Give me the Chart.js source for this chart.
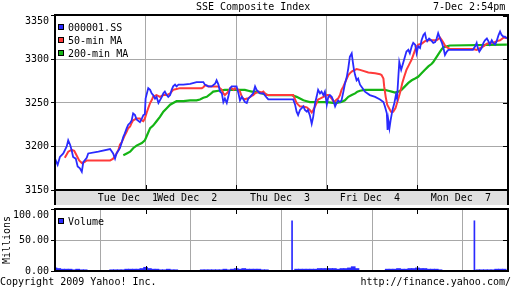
<!DOCTYPE html>
<html>
<head>
<meta charset="utf-8">
<script src="https://cdn.jsdelivr.net/npm/chart.js@4.4.0/dist/chart.umd.min.js"></script>
<style>
  body { margin: 0; background: #fff; }
  #wrap { position: relative; width: 512px; height: 288px; overflow: hidden; font: 10px 'DejaVu Sans Mono', monospace; color: #000; }
  #wrap canvas { position: absolute; left: 0; }
  .txt { position: absolute; line-height: 12px; white-space: pre; }
</style>
</head>
<body>
<div id="wrap">
  <canvas id="price" width="512" height="205" style="top:0px"></canvas>
  <canvas id="volume" width="512" height="93" style="top:195px"></canvas>
  <div class="txt" style="left:196px;top:1px">SSE Composite Index</div>
  <div class="txt" style="left:433px;top:1px">7-Dec 2:54pm</div>
  <div class="txt" style="left:0px;top:276px">Copyright 2009 Yahoo! Inc.</div>
  <div class="txt" style="right:1px;top:276px">http://finance.yahoo.com/</div>
</div>
<script>
// ---------------- data (x = trading minutes since Tue open, 240 per day) ----------------
const dayBreaks = [240, 480, 720, 960]
const dayLabels = ['Tue Dec  1', 'Wed Dec  2', 'Thu Dec  3', 'Fri Dec  4', 'Mon Dec  7']
const dayLabelAt = [193, 350, 596, 834, 1075]
const priceTicks = [3150, 3200, 3250, 3300, 3350]
const volTicks = [0, 50, 100]

const blueTime = [
  0,7,13,22,31,35,40,44,48,55,60,66,71,75,84,88,115,146,154,159,163,172,177,181,185,190,194,199,203,207,212,216,225,230,234,238,
  240,247,252,256,260,265,269,274,278,283,287,291,296,300,305,309,313,318,322,327,340,358,375,384,393,397,406,415,424,428,433,437,442,446,450,455,459,464,468,477,
  481,486,490,495,503,508,512,517,525,530,534,543,552,561,565,631,636,640,644,649,658,662,667,670,675,680,684,689,693,697,702,706,711,715,
  720,724,728,733,737,742,746,750,755,759,764,768,773,777,781,786,789,792,795,799,803,808,821,834,848,861,870,874,879,881,883,886,889,894,899,903,906,909,912,917,923,927,931,936,940,945,949,954,958,
  962,967,971,976,980,983,986,991,996,1002,1007,1011,1015,1020,1025,1029,1033,1038,1042,1107,1113,1117,1120,1124,1130,1135,1139,1144,1148,1152,1157,1161,1166,1170,1175,1179,1183,1188,1192,1197
]
const blueValue = [
  3186,3179,3188,3192,3200,3207,3202,3196,3188,3186,3177,3175,3171,3182,3187,3192,3194,3197,3192,3186,3192,3198,3205,3211,3215,3221,3225,3227,3230,3238,3236,3231,3228,3232,3236,3237,
  3255,3267,3265,3261,3259,3255,3257,3250,3253,3257,3261,3263,3259,3257,3259,3265,3269,3271,3269,3271,3271,3272,3274,3274,3274,3271,3269,3269,3272,3276,3271,3263,3261,3251,3255,3250,3257,3267,3269,3269,
  3269,3261,3253,3257,3251,3250,3255,3257,3261,3269,3265,3261,3261,3256,3254,3254,3248,3240,3236,3242,3246,3242,3240,3242,3236,3226,3234,3250,3257,3265,3261,3263,3259,3263,
  3248,3257,3259,3257,3253,3246,3250,3253,3251,3253,3263,3272,3280,3290,3303,3307,3297,3288,3282,3276,3278,3271,3263,3259,3257,3254,3251,3246,3238,3219,3230,3221,3230,3242,3250,3259,3255,3276,3297,3288,3297,3303,3309,3311,3307,3315,3319,3317,3307,
  3315,3313,3322,3328,3330,3324,3321,3324,3322,3319,3320,3324,3330,3324,3319,3313,3305,3309,3311,3311,3315,3319,3313,3309,3313,3319,3322,3324,3321,3317,3322,3319,3317,3321,3328,3332,3328,3326,3326,3324
]

const redTime = [
  26,35,44,51,57,64,71,78,84,146,150,154,159,163,168,172,177,181,185,190,194,199,203,207,216,225,230,234,238,
  243,247,252,256,260,269,278,287,296,305,313,322,331,389,393,397,402,406,415,424,433,437,442,446,450,455,459,464,468,473,477,
  486,490,495,499,503,508,512,517,521,525,530,539,548,552,556,561,565,631,636,640,644,649,658,667,675,680,684,689,693,697,702,711,
  720,724,728,733,737,742,746,750,755,759,764,768,773,777,781,786,790,795,799,808,830,848,861,865,870,872,876,880,885,890,896,902,906,911,916,920,925,931,938,945,949,954,958,
  962,971,980,989,998,1011,1020,1025,1029,1033,1038,1042,1046,1107,1117,1126,1135,1144,1152,1161,1170,1179,1188,1197
]
const redValue = [
  3187,3194,3196,3195,3190,3184,3181,3182,3184,3184,3185,3186,3189,3192,3196,3202,3205,3209,3213,3217,3221,3223,3227,3230,3232,3232,3230,3229,3232,
  3239,3244,3250,3253,3257,3259,3257,3259,3259,3261,3265,3266,3267,3267,3268,3270,3270,3269,3269,3269,3269,3267,3265,3261,3259,3261,3263,3267,3267,3265,3267,
  3265,3263,3257,3255,3254,3255,3255,3257,3258,3259,3261,3263,3262,3263,3261,3259,3259,3259,3254,3250,3248,3246,3246,3245,3242,3239,3242,3246,3250,3254,3255,3257,
  3259,3259,3257,3255,3252,3252,3254,3255,3259,3265,3269,3273,3278,3282,3284,3286,3287,3288,3289,3288,3285,3284,3283,3282,3278,3269,3257,3248,3244,3240,3240,3244,3250,3257,3265,3273,3280,3288,3294,3300,3305,3311,3315,
  3317,3318,3321,3322,3322,3322,3325,3322,3319,3316,3314,3313,3312,3312,3311,3313,3315,3318,3319,3319,3321,3322,3325,3325
]

const greenTime = [
  181,190,199,203,207,216,230,238,
  243,252,260,269,278,287,296,305,313,322,340,358,375,384,393,402,411,419,433,450,
  503,512,521,530,539,548,556,565,627,640,649,658,667,675,684,693,
  720,737,746,759,768,777,786,795,801,808,821,874,883,892,901,909,918,927,936,945,954,
  962,971,980,989,998,1002,1011,1020,1025,1029,1038,1046,1197
]
const greenValue = [
  3190,3192,3194,3196,3198,3201,3204,3207,
  3212,3221,3224,3229,3234,3240,3244,3248,3250,3252,3252,3253,3253,3254,3256,3257,3260,3263,3264,3265,
  3265,3264,3263,3263,3262,3261,3260,3259,3259,3257,3255,3253,3252,3251,3251,3251,
  3251,3250,3250,3251,3253,3257,3259,3261,3263,3264,3265,3265,3264,3263,3262,3263,3265,3269,3273,3276,3278,
  3280,3284,3288,3292,3295,3297,3303,3309,3312,3314,3315,3316,3317
]

// volume in millions
const volTime = [
  0,10,20,30,40,50,60,70,80,
  150,160,170,180,190,200,210,220,230,240,250,260,270,280,290,300,310,320,
  390,400,410,420,430,440,450,460,470,480,490,500,510,520,530,540,550,560,
  628,640,650,660,670,680,690,700,710,720,730,740,750,760,770,780,790,800,
  880,890,900,910,920,930,940,950,960,970,980,990,1000,1010,1020,
  1111,1120,1130,1140,1150,1160,1170,1180,1190
]
const volValue = [
  5,4,3,3,3,2,3,2,2,
  2,2,2,2,3,3,3,3,4,6,4,3,3,2,2,3,2,2,
  2,2,2,2,2,2,3,2,3,4,3,4,3,3,3,3,2,2,
  81,3,3,3,3,3,3,4,4,4,4,4,3,4,4,5,7,4,
  3,3,3,4,3,3,4,4,5,4,4,3,3,3,2,
  81,2,2,2,2,2,3,3,3
]

// ---------------- chart setup ----------------
Chart.defaults.font.family = "'DejaVu Sans Mono', monospace"
Chart.defaults.font.size = 10
Chart.defaults.color = '#000'
Chart.defaults.animation = false

const GRID = '#a8a8a8'
const BLUE = '#2a2aff'
const RED = '#ff3a3a'
const GREEN = '#14b414'

const pts = (t, v) => t.map((x, i) => ({ x: x, y: v[i] }))

// top tick label sits just under the frame, like the original
const tickText = (ticks, fmt) => (v) => (v === ticks[ticks.length - 1] ? ['', fmt(v)] : fmt(v))

// border, inner ticks, date band and the little legend inside the plot
const frame = {
  id: 'frame',
  beforeDraw(chart, args, o) {
    const { ctx, chartArea: a } = chart
    if (o.band) {
      ctx.save()
      ctx.fillStyle = '#e0e0e0'
      ctx.fillRect(a.left, a.bottom, a.width, chart.height - a.bottom)
      ctx.restore()
    }
  },
  afterDatasetsDraw(chart, args, o) {
    const { ctx, chartArea: a, scales } = chart
    ctx.save()
    ctx.strokeStyle = '#000'
    ctx.lineWidth = 1
    ctx.beginPath()
    scales.x.ticks.forEach((t) => {
      const px = Math.round(scales.x.getPixelForValue(t.value)) + 0.5
      ctx.moveTo(px, a.bottom)
      ctx.lineTo(px, a.bottom - 5)
      if (o.top) {
        ctx.moveTo(px, a.top)
        ctx.lineTo(px, a.top + 5)
      }
    })
    scales.y.ticks.forEach((t) => {
      const py = Math.round(scales.y.getPixelForValue(t.value)) + 0.5
      ctx.moveTo(a.right, py)
      ctx.lineTo(a.right - 5, py)
    })
    ctx.stroke()

    ctx.lineWidth = 2
    ctx.strokeRect(a.left, a.top, a.width, a.height)
    if (o.band) {
      ctx.beginPath()
      ctx.moveTo(a.left, a.bottom)
      ctx.lineTo(a.left, chart.height)
      ctx.moveTo(a.right, a.bottom)
      ctx.lineTo(a.right, chart.height)
      ctx.stroke()
    }

    // legend
    ctx.lineWidth = 1
    ctx.textBaseline = 'middle'
    ctx.textAlign = 'left'
    ctx.font = "10px 'DejaVu Sans Mono', monospace"
    let row = 0
    chart.data.datasets.forEach((ds) => {
      if (!ds.label) return
      const y = a.top + 12 + row * 13
      ctx.fillStyle = ds.borderColor || ds.backgroundColor
      ctx.fillRect(a.left + 3, y - 3, 6, 6)
      ctx.strokeRect(a.left + 3.5, y - 2.5, 5, 5)
      ctx.fillStyle = '#000'
      ctx.fillText(ds.label, a.left + 13, y + 1)
      row++
    })
    ctx.restore()
  },
}

const gridX = {
  type: 'linear',
  min: 0,
  max: 1200,
  offset: false,
  afterBuildTicks: (s) => { s.ticks = dayBreaks.map((v) => ({ value: v })) },
  afterFit: (s) => { s.height = 0 },
  ticks: { display: false },
  grid: { color: GRID, drawTicks: false },
  border: { display: false },
}

const line = (label, t, v, color, w) => ({
  label: label,
  data: pts(t, v),
  borderColor: color,
  backgroundColor: color,
  borderWidth: w,
  pointRadius: 0,
  tension: 0,
  fill: false,
})

new Chart(document.getElementById('price'), {
  type: 'line',
  data: {
    datasets: [
      line('000001.SS', blueTime, blueValue, BLUE, 1.8),
      line('50-min MA', redTime, redValue, RED, 2),
      line('200-min MA', greenTime, greenValue, GREEN, 2.2),
    ],
  },
  options: {
    responsive: false,
    layout: { padding: { top: 15, right: 4, bottom: 0, left: 0 } },
    scales: {
      x: gridX,
      xl: {
        type: 'linear',
        position: 'bottom',
        min: 0,
        max: 1200,
        offset: false,
        afterBuildTicks: (s) => { s.ticks = dayLabelAt.map((v) => ({ value: v })) },
        afterFit: (s) => { s.height = 15 },
        ticks: { autoSkip: false, maxRotation: 0, minRotation: 0, padding: 2, callback: (v, i) => dayLabels[i] },
        grid: { display: false, drawTicks: false },
        border: { display: false },
      },
      y: {
        min: 3150,
        max: 3351,
        afterBuildTicks: (s) => { s.ticks = priceTicks.map((v) => ({ value: v })) },
        afterFit: (s) => { s.width = 55 },
        ticks: { padding: 2, callback: tickText(priceTicks, (v) => String(v)) },
        grid: { color: GRID, tickColor: '#000', tickLength: 4 },
        border: { display: false },
      },
    },
    plugins: { legend: { display: false }, tooltip: { enabled: false }, frame: { band: true } },
  },
  plugins: [frame],
})

const volPts = pts(volTime, volValue)

new Chart(document.getElementById('volume'), {
  type: 'bar',
  data: {
    datasets: [
      { label: 'Volume', data: volPts.filter((p) => p.y < 50), backgroundColor: BLUE, barThickness: 4, grouped: false },
      { label: '', data: volPts.filter((p) => p.y >= 50), backgroundColor: BLUE, barThickness: 1, grouped: false },
    ],
  },
  options: {
    responsive: false,
    layout: { padding: { top: 10, right: 4, bottom: 17, left: 0 } },
    scales: {
      x: gridX,
      y: {
        min: 0,
        max: 100,
        afterBuildTicks: (s) => { s.ticks = volTicks.map((v) => ({ value: v })) },
        afterFit: (s) => { s.width = 55 },
        ticks: { padding: 2, callback: tickText(volTicks, (v) => v.toFixed(2)) },
        grid: { color: GRID, tickColor: '#000', tickLength: 4 },
        border: { display: false },
        title: { display: true, text: 'Millions', padding: { top: 1, bottom: 0 } },
      },
    },
    plugins: { legend: { display: false }, tooltip: { enabled: false }, frame: { top: true } },
  },
  plugins: [frame],
})
</script>
</body>
</html>
